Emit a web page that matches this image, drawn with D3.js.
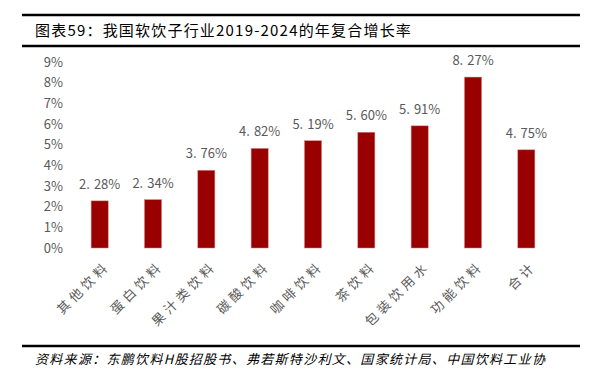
<!DOCTYPE html>
<html><head><meta charset="utf-8">
<script src="https://cdn.jsdelivr.net/npm/d3@7"></script>
<style>body{margin:0;background:#fff}svg{display:block}</style>
</head><body>
<script>
const categories = ["其他饮料","蛋白饮料","果汁类饮料","碳酸饮料","咖啡饮料","茶饮料","包装饮用水","功能饮料","合计"];
const values = [2.28, 2.34, 3.76, 4.82, 5.19, 5.60, 5.91, 8.27, 4.75];
const yTicks = [0,1,2,3,4,5,6,7,8,9];
const title = "图表59：我国软饮子行业2019-2024的年复合增长率";
const source = "资料来源：东鹏饮料H股招股书、弗若斯特沙利文、国家统计局、中国饮料工业协";

const W = 592, H = 377;
const svg = d3.select("body").append("svg").attr("width", W).attr("height", H);
const font = "'Noto Sans CJK SC', sans-serif";

svg.append("line").attr("x1",22).attr("x2",580).attr("y1",15).attr("y2",15).attr("stroke","#000").attr("stroke-width",2.5);
svg.append("line").attr("x1",22).attr("x2",580).attr("y1",46).attr("y2",46).attr("stroke","#000").attr("stroke-width",2.5);
svg.append("line").attr("x1",22).attr("x2",580).attr("y1",346).attr("y2",346).attr("stroke","#000").attr("stroke-width",2.5);

svg.append("text").attr("x",35).attr("y",36).attr("font-family",font).attr("font-size",15).attr("letter-spacing",1.2).attr("fill","#000").text(title);
svg.append("text").attr("x",35).attr("y",364).attr("font-family",font).attr("font-size",13).attr("letter-spacing",1.3).attr("font-style","italic").attr("fill","#000").text(source);

const x = d3.scaleBand().domain(categories).range([73, 553]).paddingInner(0.68).paddingOuter(0.34);
const y = d3.scaleLinear().domain([0, 9]).range([248, 62]);

const yAxis = svg.append("g").attr("transform","translate(63,0)")
  .call(d3.axisLeft(y).tickValues(yTicks).tickFormat(d => d + "%").tickSize(0).tickPadding(0));
yAxis.select(".domain").remove();
yAxis.selectAll("text").attr("font-family",font).attr("font-size",13).attr("fill","#595959");

svg.append("g").selectAll("rect").data(values).join("rect")
  .attr("x",(d,i)=>x(categories[i])).attr("width",x.bandwidth())
  .attr("y",d=>y(d)).attr("height",d=>y(0)-y(d))
  .attr("fill","#990000").attr("stroke","#d98080").attr("stroke-width",0.5);

const lbl = svg.append("g").selectAll("text").data(values).join("text")
  .attr("x",(d,i)=>x(categories[i])+x.bandwidth()/2).attr("y",d=>y(d)-12)
  .attr("text-anchor","middle").attr("font-family",font).attr("font-size",13).attr("fill","#595959");
lbl.append("tspan").text(d=>d.toFixed(2).split(".")[0] + ".");
lbl.append("tspan").attr("dx",4).text(d=>d.toFixed(2).split(".")[1] + "%");

const xAxis = svg.append("g").attr("transform",`translate(0,${y(0)})`)
  .call(d3.axisBottom(x).tickSize(0).tickPadding(0));
xAxis.select(".domain").remove();
xAxis.selectAll("text")
  .attr("font-family",font).attr("font-size",13).attr("fill","#595959")
  .attr("text-anchor","end").attr("dy",0).attr("y",0)
  .attr("transform","translate(11,19) rotate(-45)")
  .attr("letter-spacing",4);
</script>
</body></html>
